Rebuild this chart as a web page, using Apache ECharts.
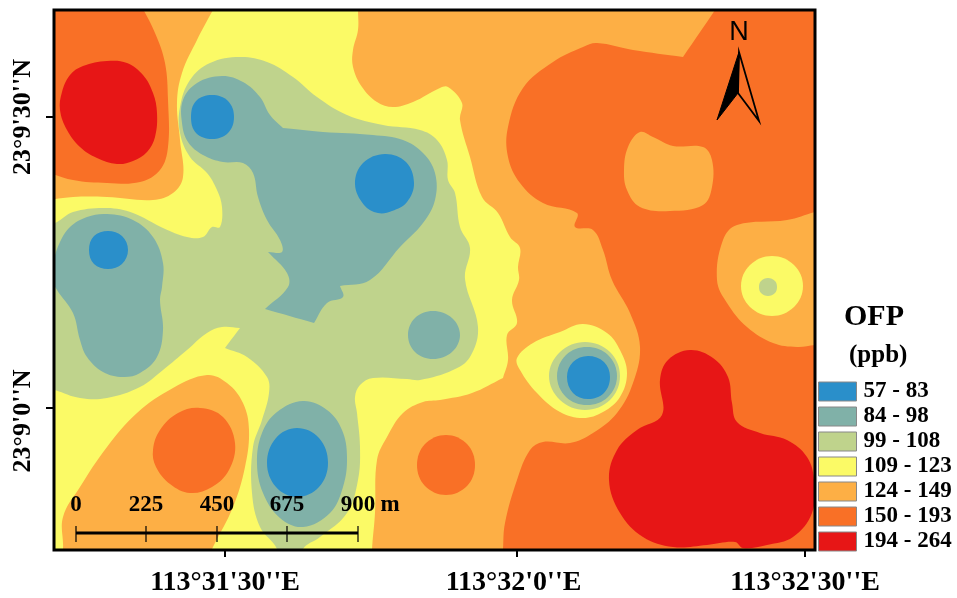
<!DOCTYPE html>
<html><head><meta charset="utf-8">
<style>html,body{margin:0;padding:0;background:#fff}#c{width:957px;height:598px}</style>
<script src="https://cdn.jsdelivr.net/npm/echarts@6/dist/echarts.min.js"></script>
</head><body><div id="c"></div>
<script>
// Class legend
const classNames = ['57 - 83','84 - 98','99 - 108','109 - 123','124 - 149','150 - 193','194 - 264'];
const classColors = ['#2A8FCA','#80B1A8','#BFD38C','#FBFA66','#FDAF45','#F97026','#E71616'];
// Axis ticks (map grid units) and labels
const lonTicks = [225,517,805];
const lonLabels = ["113°31'30''E","113°32'0''E\u00A0","113°32'30''E"];
const latTicks = [117,408];
const latLabels = ["23°9'30''N","23°9'0''N\u00A0\u00A0\u00A0\u00A0"];
// Scale bar
const scaleTicks = [76,146,217,287,358];
const scaleLabels = ['0','225','450','675','900'];
// Contour outlines, in map grid units [easting, southing]; a repeated vertex is a sharp corner
const baseArea = [[30,-10],[30,-10],[840,-10],[840,-10],[840,570],[840,570],[30,570],[30,570]];
const yellowMain = [[30,-10],[30,-10],[358,-10],[358,10],[358,30],[353,50],[353,67],[362,87],[377,102],[393,107],[413,102],[440,88],[448,87],[462,103],[460,120],[470,157],[482,197],[498,213],[510,237],[520,248],[518,267],[519,280],[512,300],[517,323],[507,335],[508,360],[503,378],[503,378],[472,393],[440,400],[423,402],[403,413],[387,437],[377,460],[375,513],[372,550],[372,570],[372,570],[30,570],[30,570]];
const orangeTopLeftBand = [[222,-5],[213,10],[197,40],[182,73],[177,103],[180,140],[183,177],[173,193],[153,200],[107,197],[73,197],[40,201],[25,201],[25,201],[25,-5],[25,-5]];
const orangeBottomLeftBand = [[207,375],[227,383],[243,403],[249,430],[245,467],[233,507],[213,547],[205,565],[205,565],[60,565],[60,565],[63,549],[63,517],[80,487],[107,447],[137,413],[173,388]];
const deepTopLeft = [[138,0],[155,33],[165,63],[168,100],[168,147],[160,170],[140,182],[107,183],[73,180],[40,170],[25,168],[25,168],[25,-5],[25,-5],[134,-5]];
const deepBottomLeft = [[200,408],[223,417],[235,443],[229,470],[212,487],[190,493],[170,484],[156,467],[153,450],[160,430],[178,413]];
const deepBottomCentre = [[446,435],[467,444],[475,465],[467,486],[446,495],[425,486],[417,465],[425,444]];
const deepEast = [[724,-5],[715,10],[683,57],[683,57],[633,50],[597,43],[583,47],[553,62],[523,88],[508,127],[508,157],[520,183],[543,203],[577,213],[575,227],[593,230],[603,250],[612,280],[630,313],[640,347],[633,383],[617,413],[593,433],[570,443],[543,442],[530,450],[517,480],[505,523],[503,549],[502,570],[502,570],[840,570],[840,570],[840,-5],[840,-5]];
const lightHoleEast = [[640,132],[653,137],[673,146],[703,147],[712,160],[712,187],[703,205],[670,211],[640,207],[627,190],[624,170],[628,147]];
const lightEastLobe = [[840,206],[815,212],[787,220],[737,225],[723,240],[717,280],[727,303],[747,327],[773,343],[797,347],[815,345],[840,342],[840,342]];
const yellowRing = [[772,256],[794,265],[803,286],[794,307],[772,316],[750,307],[741,286],[750,265]];
const yellowSouthEast = [[583,324],[607,333],[620,350],[627,373],[620,397],[603,412],[583,418],[560,412],[537,393],[520,370],[517,358],[533,343],[560,332]];
const redTopLeft = [[60,110],[62,92],[70,75],[83,66],[107,61],[127,63],[143,75],[153,93],[157,113],[155,137],[147,152],[133,161],[117,164],[97,158],[80,147],[67,130]];
const redSouthEast = [[690,350],[713,358],[728,377],[732,403],[737,422],[760,433],[787,440],[807,457],[814,480],[812,513],[793,537],[767,545],[743,548],[735,542],[707,545],[673,547],[643,537],[620,513],[609,480],[617,450],[637,430],[662,415],[660,380],[668,360]];
const greenMain = [[240,57],[267,62],[293,77],[317,97],[347,115],[383,125],[420,130],[437,140],[447,160],[448,180],[455,193],[460,227],[470,248],[465,279],[478,327],[470,357],[453,370],[420,380],[407,379],[373,378],[360,385],[355,397],[357,413],[360,447],[358,480],[347,513],[320,537],[303,549],[303,565],[303,565],[276,565],[276,565],[277,549],[260,527],[252,493],[253,447],[262,420],[269,393],[267,377],[247,357],[225,348],[225,348],[240,328],[240,328],[222,327],[207,333],[187,350],[163,370],[140,387],[107,398],[80,398],[55,390],[25,380],[25,380],[25,232],[25,232],[55,223],[73,212],[107,208],[133,213],[163,228],[187,237],[203,237],[212,227],[220,227],[222,207],[217,190],[207,173],[190,157],[180,133],[180,107],[190,80],[210,63]];
const greenRingEast = [[768,278],[775,281],[777,287],[775,293],[768,296],[761,293],[759,287],[761,281]];
const greenRingSouth = [[585,342],[610,352],[620,376],[610,400],[585,410],[560,400],[549,376],[560,352]];
const tealMain = [[222,76],[243,82],[260,97],[270,115],[283,128],[283,128],[323,132],[373,135],[403,140],[423,153],[435,173],[435,200],[423,223],[400,247],[370,280],[340,286],[340,286],[343,297],[327,303],[314,323],[314,323],[265,309],[265,309],[288,287],[287,273],[268,252],[268,252],[282,252],[280,240],[267,220],[258,197],[253,173],[243,163],[223,162],[203,155],[188,142],[182,123],[183,100],[197,83]];
const tealWest = [[107,214],[133,220],[153,237],[163,263],[162,287],[160,300],[163,330],[157,357],[140,373],[123,377],[103,372],[87,357],[80,340],[73,313],[57,290],[50,275],[53,262],[60,242],[70,227],[87,217]];
const tealCentre = [[433,311],[452,318],[460,335],[452,352],[433,359],[415,352],[408,335],[415,318]];
const tealSouth = [[303,401],[327,410],[342,430],[347,457],[343,487],[330,513],[303,527],[280,518],[263,493],[257,463],[262,433],[277,412]];
const tealRingSouth = [[587,347],[608,355],[617,376],[608,397],[587,405],[566,397],[557,376],[566,355]];
const blueNorth = [[212,95],[228,101],[234,117],[228,133],[212,139],[196,133],[191,117],[196,101]];
const blueCentre = [[385,154],[406,162],[414,183],[407,202],[392,211],[378,213],[364,205],[355,184],[363,163]];
const blueWest = [[108,231],[122,236],[128,250],[122,264],[108,269],[94,264],[89,250],[94,236]];
const blueSouth = [[297,428],[319,438],[328,463],[319,487],[297,497],[276,487],[267,463],[276,438]];
const blueEast = [[588,356],[604,362],[610,377],[604,393],[588,399],[573,393],[567,377],[573,362]];
// North arrow
const arrowBlack = [[739,52],[717,120],[738,93]];
const arrowOutline = [[739,52],[738,93],[759,121]];

// Paint order: [class index, outline]
const layers = [
  [4,baseArea],[3,yellowMain],[4,orangeTopLeftBand],[4,orangeBottomLeftBand],
  [5,deepTopLeft],[5,deepBottomLeft],[5,deepBottomCentre],[5,deepEast],
  [4,lightHoleEast],[4,lightEastLobe],[3,yellowRing],[3,yellowSouthEast],
  [6,redTopLeft],[6,redSouthEast],
  [2,greenMain],[2,greenRingEast],[2,greenRingSouth],
  [1,tealMain],[1,tealWest],[1,tealCentre],[1,tealSouth],[1,tealRingSouth],
  [0,blueNorth],[0,blueCentre],[0,blueWest],[0,blueSouth],[0,blueEast]
];
const serif = '"Liberation Serif","Times New Roman",serif';
const clipOf = p => ({type:'rect',shape:{x:p.coordSys.x,y:p.coordSys.y,width:p.coordSys.width,height:p.coordSys.height}});

const contourSeries = layers.map(([ci,pts]) => ({
  type:'custom', name:classNames[ci], coordinateSystem:'cartesian2d', silent:true,
  itemStyle:{color:classColors[ci]}, encode:{x:0,y:1}, data:pts,
  renderItem(params,api){
    if(params.dataIndex!==0) return null;
    return {type:'polygon',shape:{points:pts.map(p=>api.coord(p)),smooth:0.38},
      style:{fill:classColors[ci]},clipPath:clipOf(params)};
  }
}));

const overlaySeries = {
  type:'custom', name:'overlay', coordinateSystem:'cartesian2d', silent:true, encode:{x:0,y:1},
  data:[[54,10]],
  renderItem(params,api){
    const c=p=>api.coord(p), s=params.coordSys, kids=[];
    kids.push({type:'rect',shape:{x:s.x,y:s.y,width:s.width,height:s.height},style:{fill:'none',stroke:'#000',lineWidth:3}});
    // Scale bar
    const bar0=c([scaleTicks[0],533]), bar1=c([scaleTicks[4],533]);
    kids.push({type:'line',shape:{x1:bar0[0],y1:bar0[1],x2:bar1[0],y2:bar1[1]},style:{stroke:'#000',lineWidth:3}});
    scaleTicks.forEach((t,i)=>{
      const a=c([t,526]), b=c([t,542]), l=c([t,505]);
      kids.push({type:'line',shape:{x1:a[0],y1:a[1],x2:b[0],y2:b[1]},style:{stroke:'#000',lineWidth:1.2}});
      kids.push({type:'text',style:{x:l[0],y:l[1],text:scaleLabels[i],align:'center',verticalAlign:'middle',fill:'#000',font:'bold 23px '+serif}});
    });
    const m=c([390,505]);
    kids.push({type:'text',style:{x:m[0],y:m[1],text:'m',align:'center',verticalAlign:'middle',fill:'#000',font:'bold 23px '+serif}});
    // North arrow
    kids.push({type:'polygon',shape:{points:arrowBlack.map(c)},style:{fill:'#000',stroke:'#000',lineWidth:1}});
    kids.push({type:'polygon',shape:{points:arrowOutline.map(c)},style:{fill:'none',stroke:'#000',lineWidth:1.8}});
    const n=c([739,33]);
    kids.push({type:'text',style:{x:n[0],y:n[1],text:'N',align:'center',verticalAlign:'middle',fill:'#000',font:'27px "Liberation Sans",Arial,sans-serif'}});
    return {type:'group',children:kids};
  }
};

const chart = echarts.init(document.getElementById('c'),null,{renderer:'canvas'});
chart.setOption({
  animation:false, backgroundColor:'#fff',
  grid:{left:54,right:142,top:10,bottom:48,containLabel:false},
  xAxis:{type:'value',position:'bottom',min:54,max:815,splitLine:{show:false},
    axisLine:{show:false,onZero:false},
    axisTick:{show:true,customValues:lonTicks,length:7,lineStyle:{color:'#000',width:2}},
    axisLabel:{customValues:lonTicks,margin:19,color:'#000',fontFamily:serif,fontWeight:'bold',fontSize:28,hideOverlap:false,
      formatter:v=>lonLabels[lonTicks.indexOf(v)]}},
  yAxis:{type:'value',inverse:true,position:'left',min:10,max:550,splitLine:{show:false},
    axisLine:{show:false,onZero:false},
    axisTick:{show:true,customValues:latTicks,length:8,lineStyle:{color:'#000',width:2}},
    axisLabel:{customValues:latTicks,margin:18,rotate:90,color:'#000',fontFamily:serif,fontWeight:'bold',fontSize:26,hideOverlap:false,
      formatter:v=>latLabels[latTicks.indexOf(v)]}},
  legend:{data:classNames,orient:'vertical',left:818,top:380,padding:0,itemWidth:38,itemHeight:19,itemGap:2,icon:'rect',selectedMode:false,align:'left',
    itemStyle:{borderColor:'#888',borderWidth:1},
    textStyle:{color:'#000',fontFamily:serif,fontWeight:'bold',fontSize:23,padding:[0,0,0,2]}},
  graphic:[
    {type:'text',left:844,top:302,style:{text:'OFP',fill:'#000',font:'bold 30px '+serif}},
    {type:'text',left:849,top:343,style:{text:'(ppb)',fill:'#000',font:'bold 25px '+serif}}
  ],
  series:contourSeries.concat([overlaySeries])
});
</script></body></html>
